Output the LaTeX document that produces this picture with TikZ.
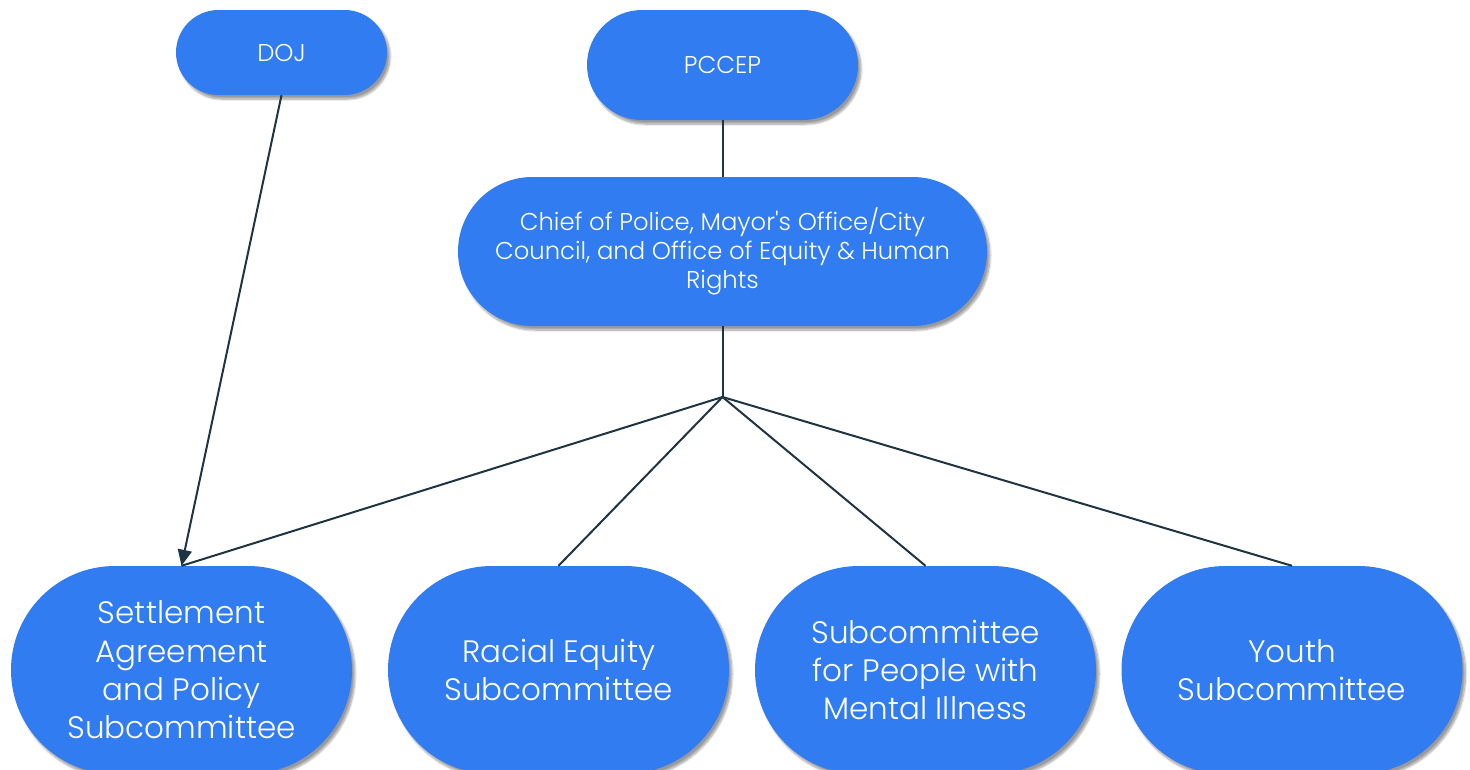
\documentclass[tikz,border=0pt]{standalone}
\usepackage{fontspec}
\setmainfont{Poppins Light}[Ligatures=TeXOff]
\usetikzlibrary{shadows.blur,arrows.meta}
\definecolor{boxblue}{RGB}{49,124,240}
\definecolor{linec}{RGB}{30,52,66}
\tikzset{
  pill/.style={inner sep=0pt, text=white, align=center, fill=boxblue,
    blur shadow={shadow xshift=3pt, shadow yshift=-4pt, shadow blur steps=8, shadow opacity=40}},
  small/.style={pill, font=\fontsize{24.3}{29}\selectfont},
  big/.style={pill, font=\fontsize{31}{38.3}\selectfont,
    minimum width=341, minimum height=208, rounded corners=104},
  conn/.style={draw=linec, line width=2pt},
}
\begin{document}
\begin{tikzpicture}[x=1pt,y=1pt]
\useasboundingbox (0,0) rectangle (1470,-769);
\begin{scope}
\clip (0,0) rectangle (1470,-769);
% nodes
\node[small, minimum width=211, minimum height=85, rounded corners=42.5] (doj) at (281.5,-52.5) {DOJ};
\node[small, minimum width=271, minimum height=110, rounded corners=55] (pccep) at (722.5,-65) {PCCEP};
\node[small, minimum width=529, minimum height=149, rounded corners=74.5] (chief) at (722.5,-251.5) {Chief of Police, Mayor's Office/City\\Council, and Office of Equity \& Human\\Rights};
\node[big] (b1) at (181.5,-670) {Settlement\\Agreement\\and Policy\\Subcommittee};
\node[big] (b2) at (558.5,-670) {Racial Equity\\Subcommittee};
\node[big] (b3) at (925.5,-670) {Subcommittee\\for People with\\Mental Illness};
\node[big] (b4) at (1292,-670) {Youth\\Subcommittee};
\coordinate (j) at (722.5,-397);
% connectors
\draw[conn, -{Triangle[length=16pt,width=14pt]}] (doj.south) -- (b1.north);
\draw[conn] (pccep.south) -- (chief.north);
\draw[conn] (chief.south) -- (j);
\draw[conn] (j) -- (b1.north);
\draw[conn] (j) -- (b2.north);
\draw[conn] (j) -- (b3.north);
\draw[conn] (j) -- (b4.north);
\end{scope}
\end{tikzpicture}
\end{document}
